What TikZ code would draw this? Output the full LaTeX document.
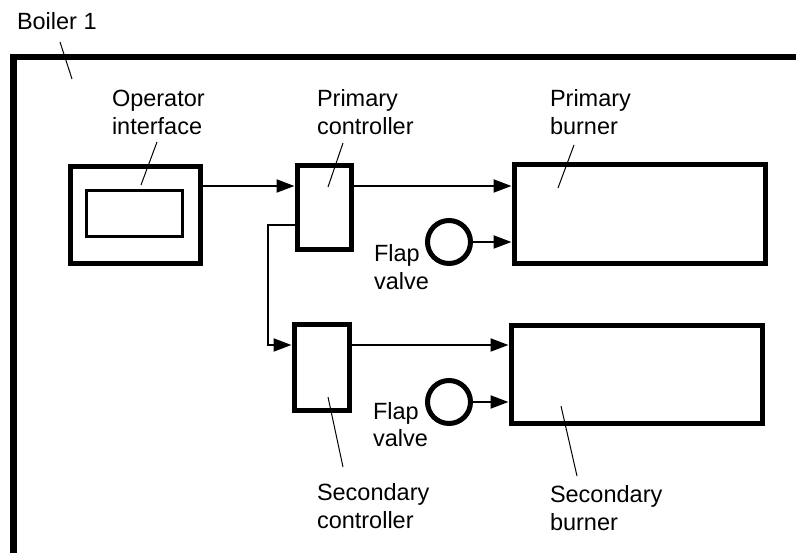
\documentclass[tikz,border=0pt]{standalone}
\usepackage{fontspec}
\setmainfont{Liberation Sans}
\usetikzlibrary{arrows.meta}
\begin{document}
\begin{tikzpicture}[x=1pt,y=-1pt,
  lbl/.style={inner sep=0pt, outer sep=0pt, anchor=base west, align=left, font=\fontsize{23.5}{28}\selectfont},
  thickbox/.style={draw, line width=5pt, inner sep=0pt, outer sep=2.5pt, minimum width=#1},
  thinbox/.style={draw, line width=3pt, inner sep=0pt, outer sep=1.5pt},
  valve/.style={draw, circle, line width=5pt, inner sep=0pt, outer sep=2.5pt, minimum size=43pt},
  arr/.style={line width=2pt, -{Triangle[length=18pt,width=13pt]}},
  leader/.style={line width=1pt}]
\useasboundingbox (0,0) rectangle (796,553);
\clip (0,0) rectangle (796,553);
% boiler border
\coordinate (bcorner) at (13.5,57);
\draw[line width=6.5pt] (13.5,570) -- (bcorner) -- (820,57);
% boxes
\node[thickbox=130pt, minimum height=97pt] (op) at (135,215.5) {};
\node[thinbox, minimum width=96pt, minimum height=46pt] (screen) at (134.5,213.5) {};
\node[thickbox=54pt, minimum height=84pt] (pc) at (324,208) {};
\node[thickbox=251pt, minimum height=99pt] (pb) at (639.5,214.5) {};
\node[thickbox=55pt, minimum height=86pt] (sc) at (321.5,368) {};
\node[thickbox=251pt, minimum height=98pt] (sb) at (636.5,375) {};
\node[valve] (fv1) at (449,242) {};
\node[valve] (fv2) at (449,402) {};
% labels (anchor = baseline of last line)
\node[lbl] (lboiler) at (17,30) {Boiler 1};
\node[lbl] (lop) at (112,134.5) {Operator\\interface};
\node[lbl] (lpc) at (317,134.5) {Primary\\controller};
\node[lbl] (lpb) at (550,135) {Primary\\burner};
\node[lbl] (lfv1) at (374,290) {Flap\\valve};
\node[lbl] (lfv2) at (373,447) {Flap\\valve};
\node[lbl] (lsc) at (317,528) {Secondary\\controller};
\node[lbl] (lsb) at (550,530) {Secondary\\burner};
% connectors
\draw[arr] (op.east |- 0,186) -- (pc.west |- 0,186);
\draw[arr] (pc.east |- 0,186) -- (pb.west |- 0,186);
\draw[arr] (fv1.east) -- (fv1.east -| pb.west);
\draw[arr] (pc.west |- 0,225) -- (268,225) -- (268,345) -- (sc.west |- 0,345);
\draw[arr] (sc.east |- 0,345) -- (sb.west |- 0,345);
\draw[arr] (fv2.east) -- (fv2.east -| sb.west);
% leader lines
\coordinate (kboiler) at (72,79);
\coordinate (kop) at (141,185);
\coordinate (kpc) at (328,187);
\coordinate (kpb) at (558,188);
\coordinate (ksc) at (328,397);
\coordinate (ksb) at (561,406);
\draw[leader] (60,42) -- (kboiler);
\draw[leader] (157,142) -- (kop);
\draw[leader] (343,143) -- (kpc);
\draw[leader] (574,145) -- (kpb);
\draw[leader] (343,467) -- (ksc);
\draw[leader] (577,476) -- (ksb);
\end{tikzpicture}
\end{document}
